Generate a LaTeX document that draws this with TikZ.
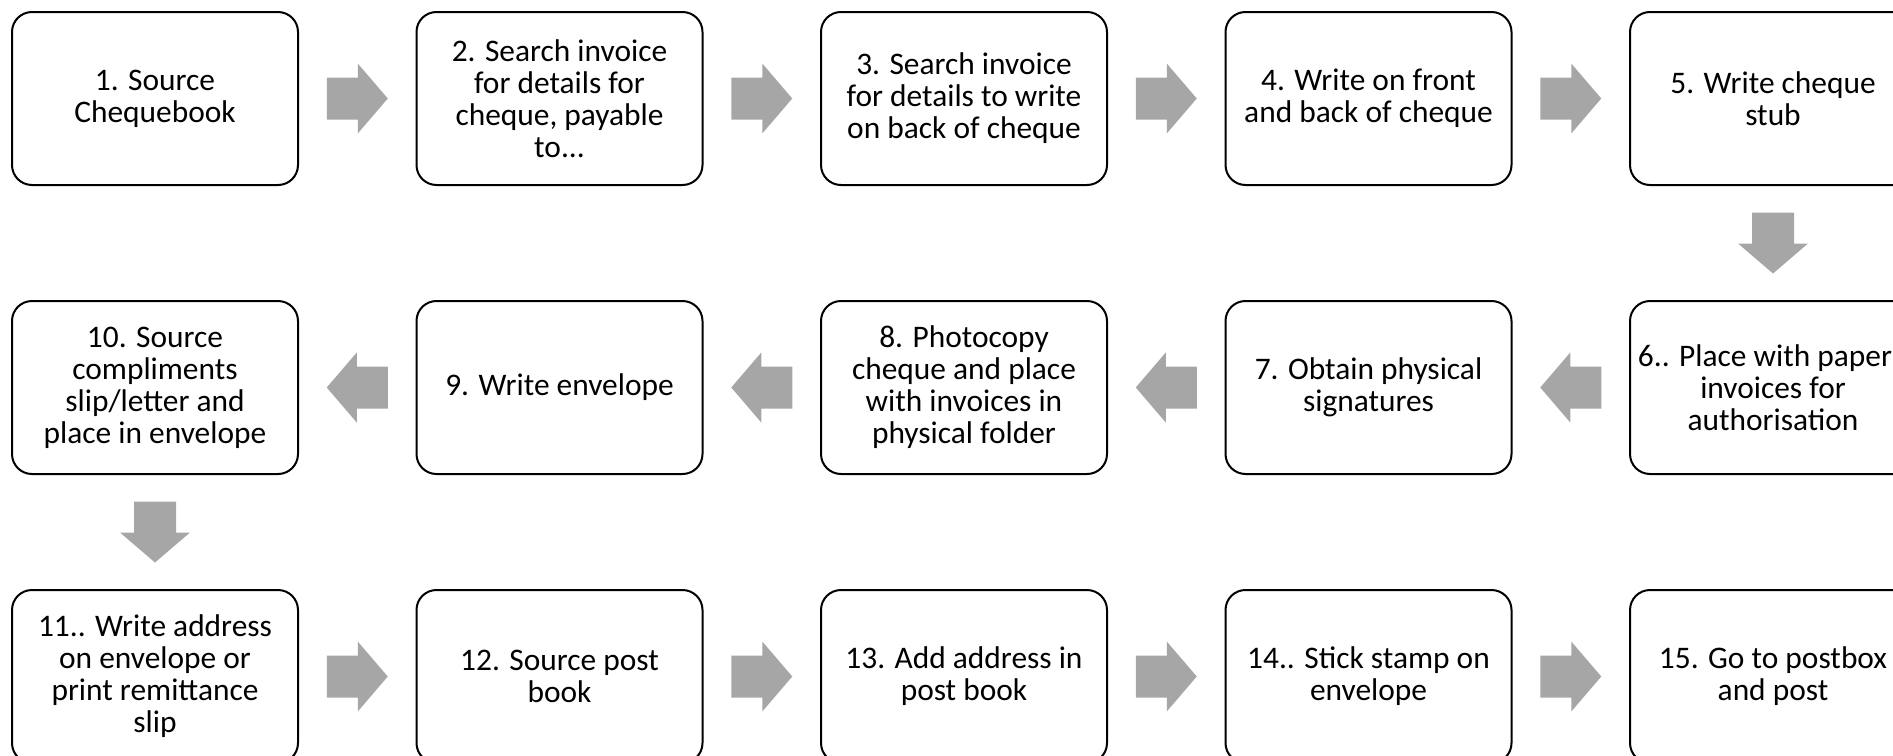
\documentclass[tikz,border=0pt]{standalone}
\usepackage{fontspec}
\setmainfont{Carlito}
\usetikzlibrary{positioning,calc}
\definecolor{myarrowgray}{RGB}{166,166,166}
\newcommand{\widthstep}{143pt}
\newcommand{\heightstep}{86.5pt}
\newcommand{\gapx}{58.25pt}
\newcommand{\gapy}{57pt}
\tikzset{
    stepbox/.style={draw, rounded corners=10pt, line width=1pt, minimum width=\widthstep, minimum height=\heightstep, align=center, inner sep=2pt, font=\fontsize{15.7}{16}\selectfont},
    blockarrow/.pic={
        \fill[myarrowgray] (-15.25pt,-10.5pt) -- (0.25pt,-10.5pt) -- (0.25pt,-17.5pt) -- (15.25pt,0pt)
            -- (0.25pt,17.5pt) -- (0.25pt,10.5pt) -- (-15.25pt,10.5pt) -- cycle;
    }
}
\newcommand{\flow}[3]{\pic[rotate=#3] at ($(#1)!0.5!(#2)$) {blockarrow};}
\begin{document}
\begin{tikzpicture}[x=0.5pt, y=-0.5pt]
    \useasboundingbox (0,0) rectangle (1893,755);

    % first row
    \node[stepbox] (s1) at (155,98.5) {1. Source\\Chequebook};
    \node[stepbox, right=\gapx of s1] (s2) {2. Search invoice\\for details for\\cheque, payable\\to...};
    \node[stepbox, right=\gapx of s2] (s3) {3. Search invoice\\for details to write\\on back of cheque};
    \node[stepbox, right=\gapx of s3] (s4) {4. Write on front\\and back of cheque};
    \node[stepbox, right=\gapx of s4] (s5) {5. Write cheque\\stub};

    % second row, right to left (first line of 6 nudged left, it runs to the edge)
    \node[stepbox, below=\gapy of s5] (s6) {6.. Place with paper\hspace*{8pt}\\invoices for\\authorisation};
    \node[stepbox, left=\gapx of s6] (s7) {7. Obtain physical\\signatures};
    \node[stepbox, left=\gapx of s7] (s8) {8. Photocopy\\cheque and place\\with invoices in\\physical folder};
    \node[stepbox, left=\gapx of s8] (s9) {9. Write envelope};
    \node[stepbox, left=\gapx of s9] (s10) {10. Source\\compliments\\slip/letter and\\place in envelope};

    % third row
    \node[stepbox, below=\gapy of s10] (s11) {11.. Write address\\on envelope or\\print remittance\\slip};
    \node[stepbox, right=\gapx of s11] (s12) {12. Source post\\book};
    \node[stepbox, right=\gapx of s12] (s13) {13. Add address in\\post book};
    \node[stepbox, right=\gapx of s13] (s14) {14.. Stick stamp on\\envelope};
    \node[stepbox, right=\gapx of s14] (s15) {15. Go to postbox\\and post};

    % arrows
    \flow{s1}{s2}{0}
    \flow{s2}{s3}{0}
    \flow{s3}{s4}{0}
    \flow{s4}{s5}{0}
    \flow{s5}{s6}{-90}
    \flow{s6}{s7}{180}
    \flow{s7}{s8}{180}
    \flow{s8}{s9}{180}
    \flow{s9}{s10}{180}
    \flow{s10}{s11}{-90}
    \flow{s11}{s12}{0}
    \flow{s12}{s13}{0}
    \flow{s13}{s14}{0}
    \flow{s14}{s15}{0}
\end{tikzpicture}
\end{document}
